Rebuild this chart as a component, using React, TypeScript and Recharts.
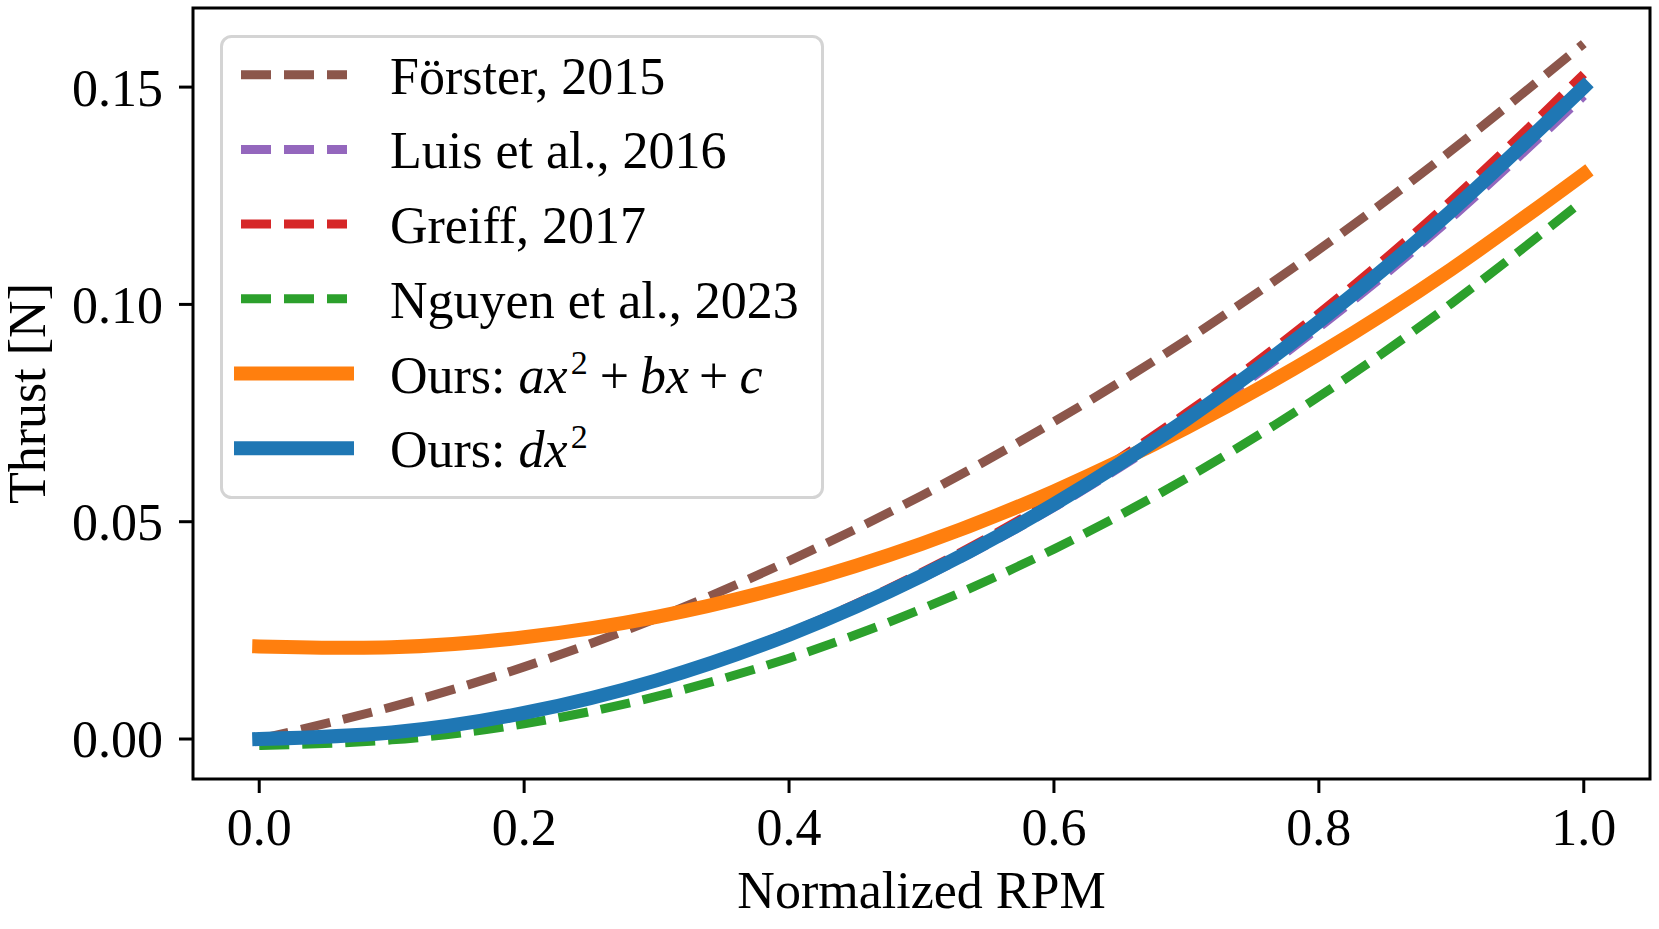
import React from "react";
import {
    LineChart,
    Line,
    XAxis,
    YAxis,
    Legend,
    ReferenceArea,
} from "recharts";

// normalized RPM samples
const rpm = [0, 0.1, 0.2, 0.3, 0.4, 0.5, 0.6, 0.7, 0.8, 0.9, 1.0];

// thrust [N]
const forster = [0, 0.0074, 0.0166, 0.0278, 0.041, 0.056, 0.073, 0.0918, 0.1126, 0.1354, 0.16];
const luis = [0, 0.0015, 0.0059, 0.0133, 0.0237, 0.037, 0.0533, 0.0725, 0.0947, 0.1199, 0.148];
const greiff = [0, 0.0015, 0.0061, 0.0138, 0.0245, 0.0383, 0.0551, 0.075, 0.0979, 0.1239, 0.153];
const nguyen = [-0.0015, -0.0002, 0.0035, 0.0098, 0.0186, 0.0299, 0.0437, 0.06, 0.0788, 0.1002, 0.124];
const oursQuad = [0.0213, 0.0211, 0.0234, 0.0281, 0.0353, 0.0449, 0.057, 0.0716, 0.0886, 0.1081, 0.13];
const oursDx2 = [0, 0.0015, 0.006, 0.0135, 0.024, 0.0375, 0.054, 0.0735, 0.096, 0.1215, 0.15];

const xTicks = [0, 0.2, 0.4, 0.6, 0.8, 1.0];
const yTicks = [0, 0.05, 0.1, 0.15];

const X_DOMAIN = [-0.05, 1.05];
const Y_DOMAIN = [-0.0092, 0.1682];

const FONT = '"Liberation Serif", "Times New Roman", serif';
const FS = 52;

const series = [
    { key: "forster", color: "#8c564b", dashed: true, width: 9 },
    { key: "luis", color: "#9467bd", dashed: true, width: 9 },
    { key: "greiff", color: "#d62728", dashed: true, width: 9 },
    { key: "nguyen", color: "#2ca02c", dashed: true, width: 9 },
    { key: "oursQuad", color: "#ff7f0e", dashed: false, width: 14 },
    { key: "oursDx2", color: "#1f77b4", dashed: false, width: 14 },
];

const data = rpm.map((x, i) => ({
    x,
    forster: forster[i],
    luis: luis[i],
    greiff: greiff[i],
    nguyen: nguyen[i],
    oursQuad: oursQuad[i],
    oursDx2: oursDx2[i],
}));

function legendLabel(key: string) {
    switch (key) {
        case "forster":
            return <tspan>Förster, 2015</tspan>;
        case "luis":
            return <tspan>Luis et al., 2016</tspan>;
        case "greiff":
            return <tspan>Greiff, 2017</tspan>;
        case "nguyen":
            return <tspan>Nguyen et al., 2023</tspan>;
        case "oursQuad":
            return (
                <>
                    <tspan>Ours: </tspan>
                    <tspan fontStyle="italic">ax</tspan>
                    <tspan fontSize={34} dy={-19} dx={3}>2</tspan>
                    <tspan dy={19} dx={12}>+</tspan>
                    <tspan fontStyle="italic" dx={11}>bx</tspan>
                    <tspan dx={10}>+</tspan>
                    <tspan fontStyle="italic" dx={11}>c</tspan>
                </>
            );
        default:
            return (
                <>
                    <tspan>Ours: </tspan>
                    <tspan fontStyle="italic">dx</tspan>
                    <tspan fontSize={34} dy={-19} dx={3}>2</tspan>
                </>
            );
    }
}

function LegendBox() {
    const w = 604;
    const h = 464;
    const rowH = 74.7;
    return (
        <svg width={w} height={h} style={{ display: "block" }}>
            <rect
                x={1.5}
                y={1.5}
                width={w - 3}
                height={h - 3}
                rx={10}
                fill="#ffffff"
                fillOpacity={0.8}
                stroke="#d4d4d4"
                strokeWidth={3}
            />
            {series.map((s, i) => {
                const cy = 39.7 + i * rowH;
                return (
                    <g key={s.key}>
                        <line
                            x1={21}
                            x2={127}
                            y1={cy}
                            y2={cy}
                            stroke={s.color}
                            strokeWidth={s.width}
                            strokeDasharray={s.dashed ? "30 13" : undefined}
                            strokeLinecap={s.dashed ? "butt" : "square"}
                        />
                        <text x={170} y={cy + 19} fontFamily={FONT} fontSize={FS} fill="#000">
                            {legendLabel(s.key)}
                        </text>
                    </g>
                );
            })}
        </svg>
    );
}

export default function App() {
    return (
        <div style={{ position: "fixed", left: 0, top: 0, width: 1659, height: 929, background: "#fff" }}>
            <LineChart
                width={1659}
                height={929}
                data={data}
                margin={{ top: 8, right: 9, bottom: 50, left: 73 }}
            >
                <XAxis
                    dataKey="x"
                    type="number"
                    domain={X_DOMAIN}
                    ticks={xTicks}
                    allowDataOverflow
                    height={100}
                    axisLine={false}
                    tickLine={{ stroke: "#000", strokeWidth: 3 }}
                    tickSize={14}
                    tickMargin={15}
                    tickFormatter={(v: number) => v.toFixed(1)}
                    tick={{ fill: "#000", fontSize: FS, fontFamily: FONT }}
                    label={(props: any) => {
                        const vb = props.viewBox || {};
                        return (
                            <text
                                x={vb.x + vb.width / 2}
                                y={vb.y + 129}
                                textAnchor="middle"
                                fontFamily={FONT}
                                fontSize={FS}
                                fill="#000"
                            >
                                Normalized RPM
                            </text>
                        );
                    }}
                />
                <YAxis
                    type="number"
                    domain={Y_DOMAIN}
                    ticks={yTicks}
                    allowDataOverflow
                    width={120}
                    axisLine={false}
                    tickLine={{ stroke: "#000", strokeWidth: 3 }}
                    tickSize={14}
                    tickMargin={16}
                    tickFormatter={(v: number) => v.toFixed(2)}
                    tick={{ fill: "#000", fontSize: FS, fontFamily: FONT }}
                    label={(props: any) => {
                        const vb = props.viewBox || {};
                        const cx = vb.x - 28;
                        const cy = vb.y + vb.height / 2;
                        return (
                            <text
                                x={cx}
                                y={cy}
                                transform={`rotate(-90 ${cx} ${cy})`}
                                textAnchor="middle"
                                fontFamily={FONT}
                                fontSize={FS}
                                fill="#000"
                            >
                                Thrust [N]
                            </text>
                        );
                    }}
                />
                <ReferenceArea
                    x1={X_DOMAIN[0]}
                    x2={X_DOMAIN[1]}
                    y1={Y_DOMAIN[0]}
                    y2={Y_DOMAIN[1]}
                    fill="none"
                    stroke="#000"
                    strokeWidth={3}
                />
                {series.map((s) => (
                    <Line
                        key={s.key}
                        type="natural"
                        dataKey={s.key}
                        stroke={s.color}
                        strokeWidth={s.width}
                        strokeDasharray={s.dashed ? "30 13" : undefined}
                        strokeLinecap={s.dashed ? "butt" : "square"}
                        dot={false}
                        activeDot={false}
                        isAnimationActive={false}
                    />
                ))}
                <Legend
                    layout="vertical"
                    align="center"
                    verticalAlign="middle"
                    wrapperStyle={{ left: 220, top: 35, width: 604, height: 464 }}
                    content={() => <LegendBox />}
                />
            </LineChart>
        </div>
    );
}
